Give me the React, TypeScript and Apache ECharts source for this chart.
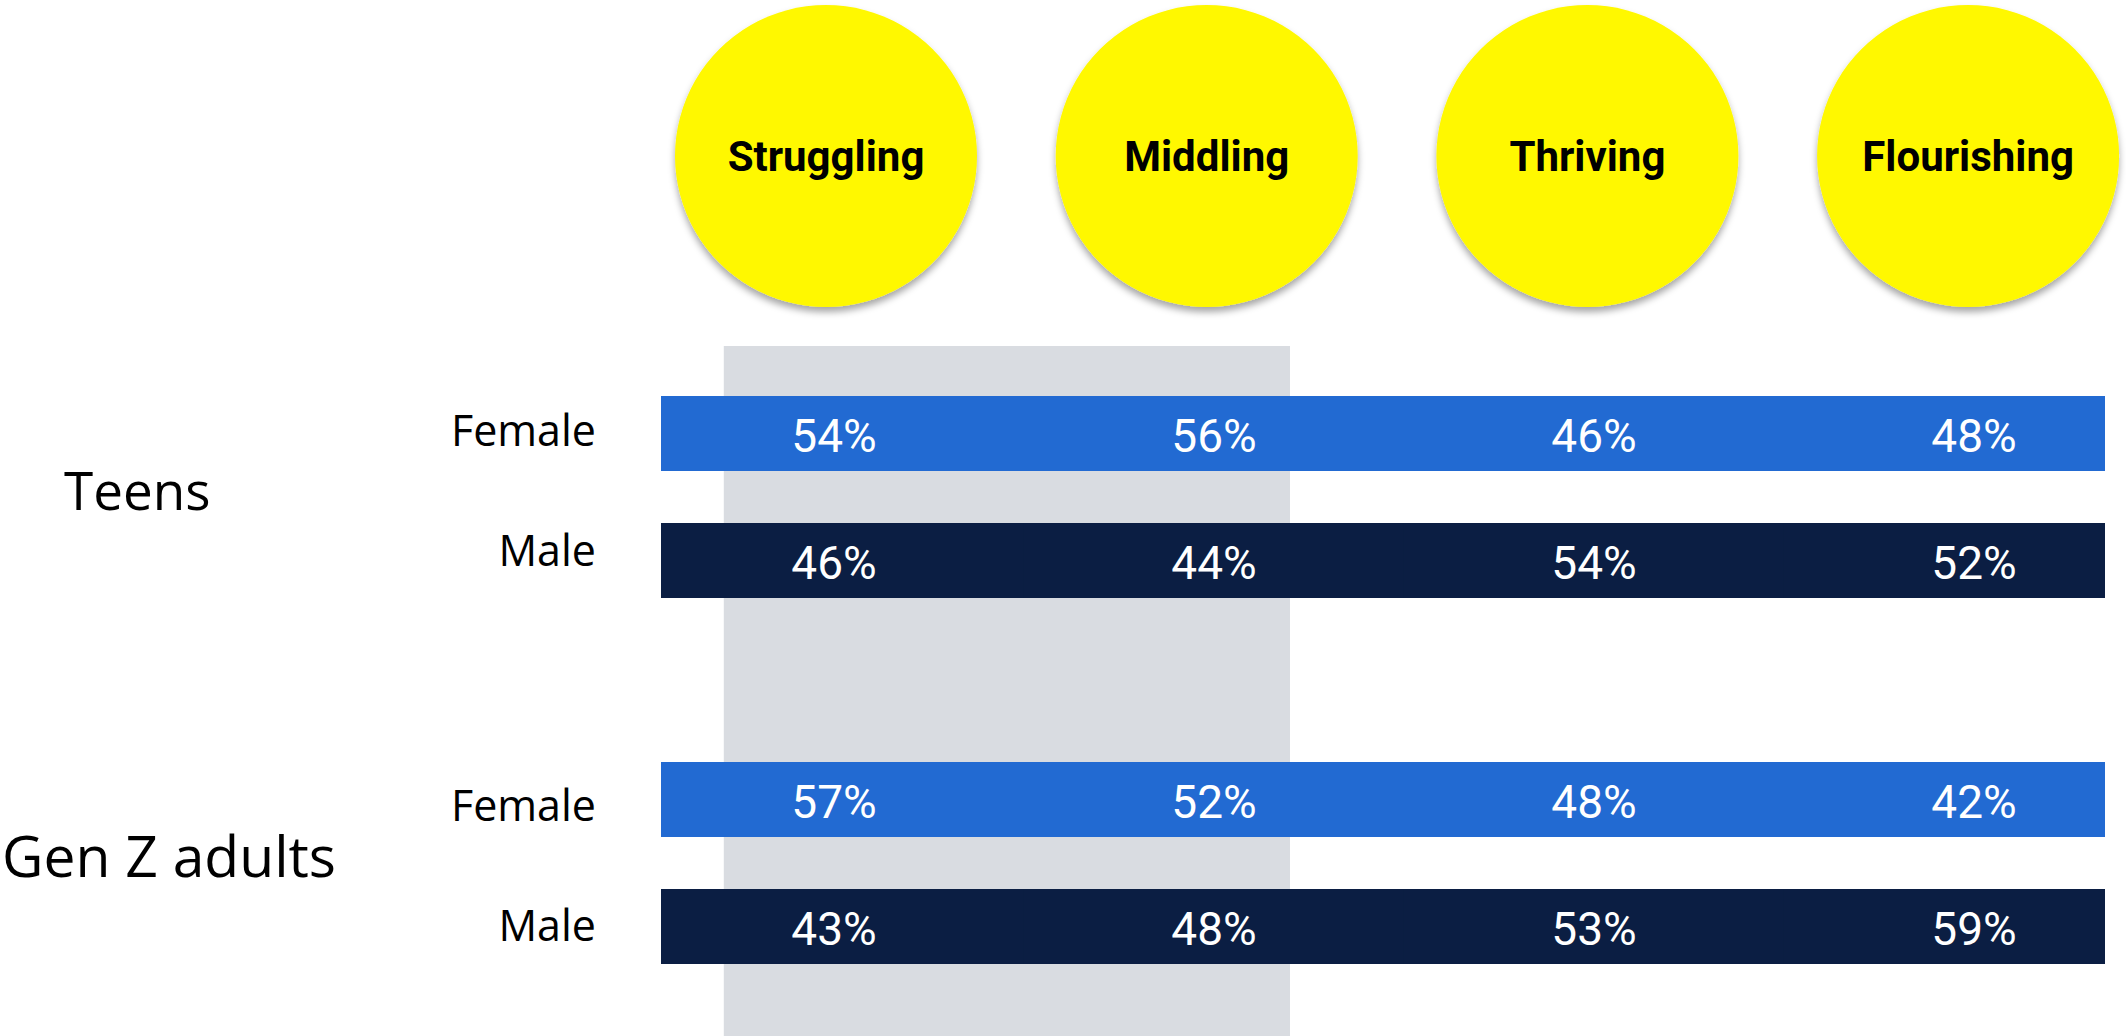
import React, { useEffect, useRef } from "react";
import * as echarts from "echarts";

// Wellbeing stages shown as column headers
const stages = ["Struggling", "Middling", "Thriving", "Flourishing"];
const genders = ["Female", "Male"];

// Share of each gender within each stage (%)
const teensFemale = [54, 56, 46, 48];
const teensMale = [46, 44, 54, 52];
const genZFemale = [57, 52, 48, 42];
const genZMale = [43, 48, 53, 59];

// Stages highlighted by the grey band (column indices)
const highlighted = [0, 1];

// Layout
const W = 2126;
const H = 1036;
const GRID_LEFT = 661;
const GRID_WIDTH = 1444;
// value columns
const FIRST_COL = 834;
const PITCH = 380;
const X_MIN = -(FIRST_COL - GRID_LEFT) / PITCH;
const X_MAX = X_MIN + GRID_WIDTH / PITCH;
// header circles
const HEAD_FIRST = 826;
const HEAD_PITCH = 380.7;
const HX_MIN = -(HEAD_FIRST - GRID_LEFT) / HEAD_PITCH;
const HX_MAX = HX_MIN + GRID_WIDTH / HEAD_PITCH;

const BAR_H = 75;
const BAND_PAD_L = 0.29;
const BAND_PAD_R = 0.2;

const FEMALE_COLOR = "#226AD2";
const MALE_COLOR = "#0B1E43";
const BAND_COLOR = "#D9DCE1";
const CIRCLE_COLOR = "#FFF800";

const toCells = (female: number[], male: number[]) => [
  ...female.map((v, i) => [i, 0, v]),
  ...male.map((v, i) => [i, 1, v]),
];

const renderRowCell = (params: any, api: any) => {
  const col = api.value(0) as number;
  const row = api.value(1) as number;
  const val = api.value(2) as number;
  const [cx, cy] = api.coord([col, row]);
  const halfW = api.size([1, 0])[0] / 2;
  const cs = params.coordSys;
  const rect = echarts.graphic.clipRectByRect(
    { x: cx - halfW - 0.5, y: cy - BAR_H / 2, width: halfW * 2 + 1, height: BAR_H },
    { x: cs.x, y: cs.y, width: cs.width, height: cs.height }
  );
  const children: any[] = [];
  if (rect) {
    children.push({
      type: "rect",
      shape: rect,
      style: { fill: row === 0 ? FEMALE_COLOR : MALE_COLOR },
    });
  }
  children.push({
    type: "text",
    x: cx,
    y: cy + 2,
    style: {
      text: `${val}%`,
      fill: "#FFFFFF",
      font: "400 46px Roboto",
      align: "center",
      verticalAlign: "middle",
    },
  });
  return { type: "group", children };
};

const renderBand = (params: any, api: any) => {
  const start = api.value(0) as number;
  const end = api.value(1) as number;
  const cs = params.coordSys;
  const x0 = api.coord([start - BAND_PAD_L, 0])[0];
  const x1 = api.coord([end + BAND_PAD_R, 0])[0];
  return {
    type: "rect",
    shape: { x: x0, y: cs.y, width: x1 - x0, height: cs.height },
    style: { fill: BAND_COLOR },
  };
};

const xAxisCfg = (gridIndex: number, min = X_MIN, max = X_MAX) => ({
  type: "value" as const,
  gridIndex,
  min,
  max,
  show: false,
});

// Row label style; `lifts` nudges each label up (+) or down (-) in px
const labelStyle = (lift: number) => ({
  color: "#000000",
  fontSize: 43,
  fontFamily: "Open Sans",
  padding: lift >= 0 ? [0, 0, lift * 2, 0] : [-lift * 2, 0, 0, 0],
});

const rowAxis = (gridIndex: number, lifts: number[]) => ({
  type: "category" as const,
  gridIndex,
  data: genders,
  inverse: true,
  axisLine: { show: false },
  axisTick: { show: false },
  splitLine: { show: false },
  axisLabel: {
    margin: 65,
    formatter: (value: string, index: number) => `{r${index}|${value}}`,
    rich: {
      r0: labelStyle(lifts[0]),
      r1: labelStyle(lifts[1]),
    },
  },
});

export default function App() {
  const ref = useRef<HTMLDivElement>(null);

  useEffect(() => {
    if (!ref.current) return;
    const chart = echarts.init(ref.current, undefined, { renderer: "svg" });
    chart.setOption({
      animation: false,
      backgroundColor: "#FFFFFF",
      grid: [
        { left: GRID_LEFT, width: GRID_WIDTH, top: 346, height: H - 346 },
        { left: GRID_LEFT, width: GRID_WIDTH, top: 0, height: 312 },
        { left: GRID_LEFT, width: GRID_WIDTH, top: 370, height: 254 },
        { left: GRID_LEFT, width: GRID_WIDTH, top: 736, height: 254 },
      ],
      xAxis: [xAxisCfg(0), xAxisCfg(1, HX_MIN, HX_MAX), xAxisCfg(2), xAxisCfg(3)],
      yAxis: [
        { type: "value", gridIndex: 0, min: 0, max: 1, show: false },
        { type: "value", gridIndex: 1, min: 0, max: 1, show: false },
        rowAxis(2, [4, 11]),
        rowAxis(3, [-5, 2]),
      ],
      graphic: [
        {
          type: "text",
          left: 64,
          top: 500 - 37,
          style: {
            text: "Teens",
            fill: "#000000",
            font: "400 53px 'Open Sans'",
          },
        },
        {
          type: "text",
          left: 2,
          top: 865 - 39,
          style: {
            text: "Gen Z adults",
            fill: "#000000",
            font: "400 57px 'Open Sans'",
          },
        },
      ],
      series: [
        {
          type: "custom",
          name: "highlight",
          xAxisIndex: 0,
          yAxisIndex: 0,
          silent: true,
          renderItem: renderBand,
          data: [[highlighted[0], highlighted[highlighted.length - 1]]],
        },
        {
          type: "scatter",
          name: "stages",
          xAxisIndex: 1,
          yAxisIndex: 1,
          clip: false,
          symbol: "circle",
          symbolSize: 302,
          itemStyle: {
            color: CIRCLE_COLOR,
            opacity: 1,
            shadowColor: "rgba(0,0,0,0.35)",
            shadowBlur: 7,
            shadowOffsetY: 5,
          },
          label: {
            show: true,
            position: "inside",
            formatter: (p: any) => stages[p.dataIndex],
            color: "#000000",
            fontFamily: "Roboto",
            fontWeight: "bold",
            fontSize: 42,
          },
          data: stages.map((_, i) => [i, 0.5]),
        },
        {
          type: "custom",
          name: "Teens",
          xAxisIndex: 2,
          yAxisIndex: 2,
          renderItem: renderRowCell,
          data: toCells(teensFemale, teensMale),
        },
        {
          type: "custom",
          name: "Gen Z adults",
          xAxisIndex: 3,
          yAxisIndex: 3,
          renderItem: renderRowCell,
          data: toCells(genZFemale, genZMale),
        },
      ],
    });
    return () => chart.dispose();
  }, []);

  return (
    <div
      ref={ref}
      style={{ position: "fixed", left: 0, top: 0, width: W, height: H }}
    />
  );
}
